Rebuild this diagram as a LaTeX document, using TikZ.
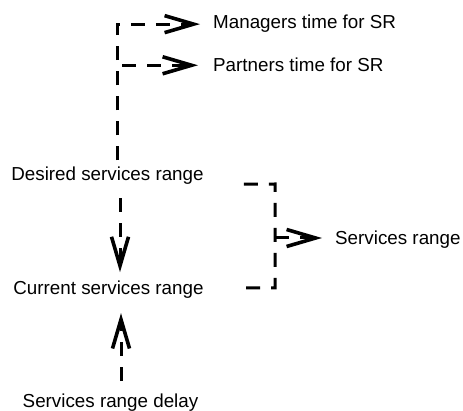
\documentclass[tikz,border=0pt]{standalone}
\usepackage{fontspec}
\setmainfont{Liberation Sans}
\usetikzlibrary{arrows.meta}
\tikzset{
  lbl/.style={inner sep=0pt, font=\fontsize{18.8}{22}\selectfont},
  dline/.style={line width=3pt, dash pattern=on 14pt off 11pt, line cap=butt, line join=miter},
  conn/.style={dline, -{Straight Barb[length=29pt,width=17pt,line width=3.6pt,sharp]}},
}
\begin{document}
\begin{tikzpicture}[x=1pt,y=-1pt]
\useasboundingbox (0,0) rectangle (463,411);
\node[lbl, anchor=base west] (managers) at (213,29) {Managers time for SR};
\node[lbl, anchor=base west] (partners) at (213,72) {Partners time for SR};
\node[lbl, anchor=base] (desired) at (107.5,181) {Desired services range};
\node[lbl, anchor=base] (current) at (108.5,295) {Current services range};
\node[lbl, anchor=base] (delay) at (110.5,407) {Services range delay};
\node[lbl, anchor=base west] (srange) at (335,245) {Services range};
% desired -> managers / partners
\draw[conn] ([xshift=9.5pt,yshift=7pt]desired.north) |- ([xshift=-13pt]managers.west);
\draw[conn] ([xshift=9.5pt,yshift=7pt]desired.north) |- ([xshift=-15pt]partners.west);
% desired -> current
\draw[conn] ([xshift=12.5pt,yshift=-13pt]desired.south) -- ([xshift=11.5pt,yshift=9pt]current.north);
% delay -> current
\draw[conn] ([xshift=10.5pt,yshift=12pt]delay.north) -- ([xshift=12.5pt,yshift=-14pt]current.south);
% bracket
\coordinate (bt) at (275,184);
\coordinate (bb) at (275,288);
\coordinate (bm) at (275,238);
\draw[dline] ([xshift=40pt,yshift=-8pt]desired.east) -- (bt) -- (bb) -- ([xshift=39pt]current.east |- bb);
\draw[conn] (bm) -- ([xshift=-13pt]srange.west |- bm);
\end{tikzpicture}
\end{document}
